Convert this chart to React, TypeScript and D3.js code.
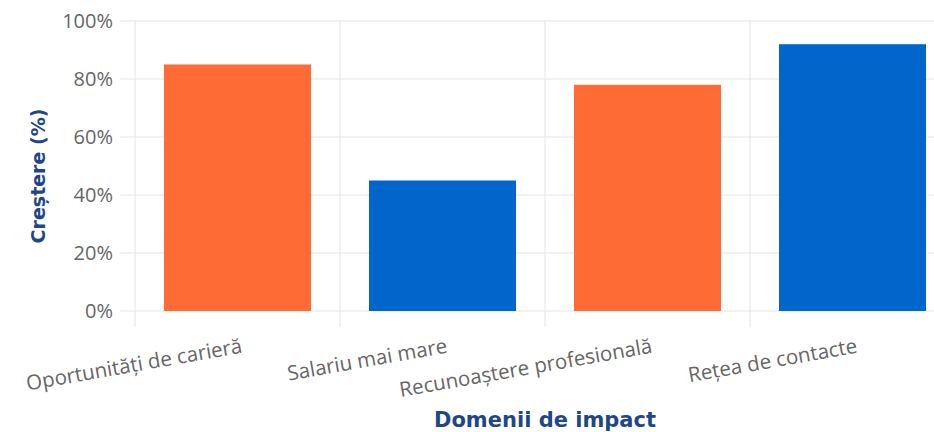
import { useEffect, useRef } from "react";
import * as d3 from "d3";

// categories and values
const categories = [
  "Oportunități de carieră",
  "Salariu mai mare",
  "Recunoaștere profesională",
  "Rețea de contacte",
];
const growth = [85, 45, 78, 92];
const barColors = ["#FF6B35", "#0066CC", "#FF6B35", "#0066CC"];
const yTicks = [0, 20, 40, 60, 80, 100];

export default function App() {
  const svgRef = useRef<SVGSVGElement>(null);
  const width = 934;
  const height = 432;
  const margin = { top: 21, right: -21, bottom: 121, left: 135 };

  useEffect(() => {
    const svg = d3.select(svgRef.current);
    svg.selectAll("*").remove();

    const innerWidth = width - margin.left - margin.right;
    const innerHeight = height - margin.top - margin.bottom;

    const x = d3.scaleBand<string>().domain(categories).range([0, innerWidth]).paddingInner(0).paddingOuter(0);
    const y = d3.scaleLinear().domain([0, 100]).range([innerHeight, 0]);

    const g = svg.append("g").attr("transform", `translate(${margin.left},${margin.top})`);
    const grid = "#e4e4e4";

    // horizontal grid with tick marks to the left
    g.selectAll("line.hgrid")
      .data(yTicks)
      .enter()
      .append("line")
      .attr("x1", -15)
      .attr("x2", innerWidth)
      .attr("y1", (d) => y(d))
      .attr("y2", (d) => y(d))
      .attr("stroke", grid)
      .attr("stroke-width", 1);

    // vertical grid at band boundaries
    g.selectAll("line.vgrid")
      .data(categories)
      .enter()
      .append("line")
      .attr("x1", (d) => x(d)!)
      .attr("x2", (d) => x(d)!)
      .attr("y1", 0)
      .attr("y2", innerHeight + 16)
      .attr("stroke", grid)
      .attr("stroke-width", 1);

    // y tick labels
    g.selectAll("text.ytick")
      .data(yTicks)
      .enter()
      .append("text")
      .attr("x", -22)
      .attr("y", (d) => y(d))
      .attr("dy", "0.35em")
      .attr("text-anchor", "end")
      .attr("font-family", "Open Sans")
      .attr("font-size", 20)
      .attr("fill", "#666")
      .text((d) => `${d}%`);

    // bars
    const barW = 147;
    g.selectAll("rect.bar")
      .data(growth)
      .enter()
      .append("rect")
      .attr("x", (_, i) => x(categories[i])! + (x.bandwidth() - barW) / 2)
      .attr("width", barW)
      .attr("y", (d) => y(d))
      .attr("height", (d) => innerHeight - y(d))
      .attr("fill", (_, i) => barColors[i]);

    // x tick labels, rotated
    g.selectAll("text.xtick")
      .data(categories)
      .enter()
      .append("text")
      .attr("transform", (d) => `translate(${x(d)! + x.bandwidth() / 2 + 3},${innerHeight + 27}) rotate(-10)`)
      .attr("dy", "0.72em")
      .attr("text-anchor", "end")
      .attr("font-family", "Open Sans")
      .attr("font-size", 20.5)
      .attr("fill", "#666")
      .text((d) => d);

    // axis titles
    svg.append("text")
      .attr("x", margin.left + innerWidth / 2)
      .attr("y", 427)
      .attr("text-anchor", "middle")
      .attr("font-family", "DejaVu Sans")
      .attr("font-weight", "bold")
      .attr("font-size", 21)
      .attr("fill", "#1f4788")
      .text("Domenii de impact");

    svg.append("text")
      .attr("transform", `translate(45,${margin.top + innerHeight / 2 + 10}) rotate(-90)`)
      .attr("text-anchor", "middle")
      .attr("font-family", "DejaVu Sans")
      .attr("font-weight", "bold")
      .attr("font-size", 19)
      .attr("fill", "#1f4788")
      .text("Creștere (%)");
  }, []);

  return (
    <svg
      ref={svgRef}
      width={width}
      height={height}
      style={{ position: "absolute", left: 0, top: 0, display: "block" }}
    />
  );
}
